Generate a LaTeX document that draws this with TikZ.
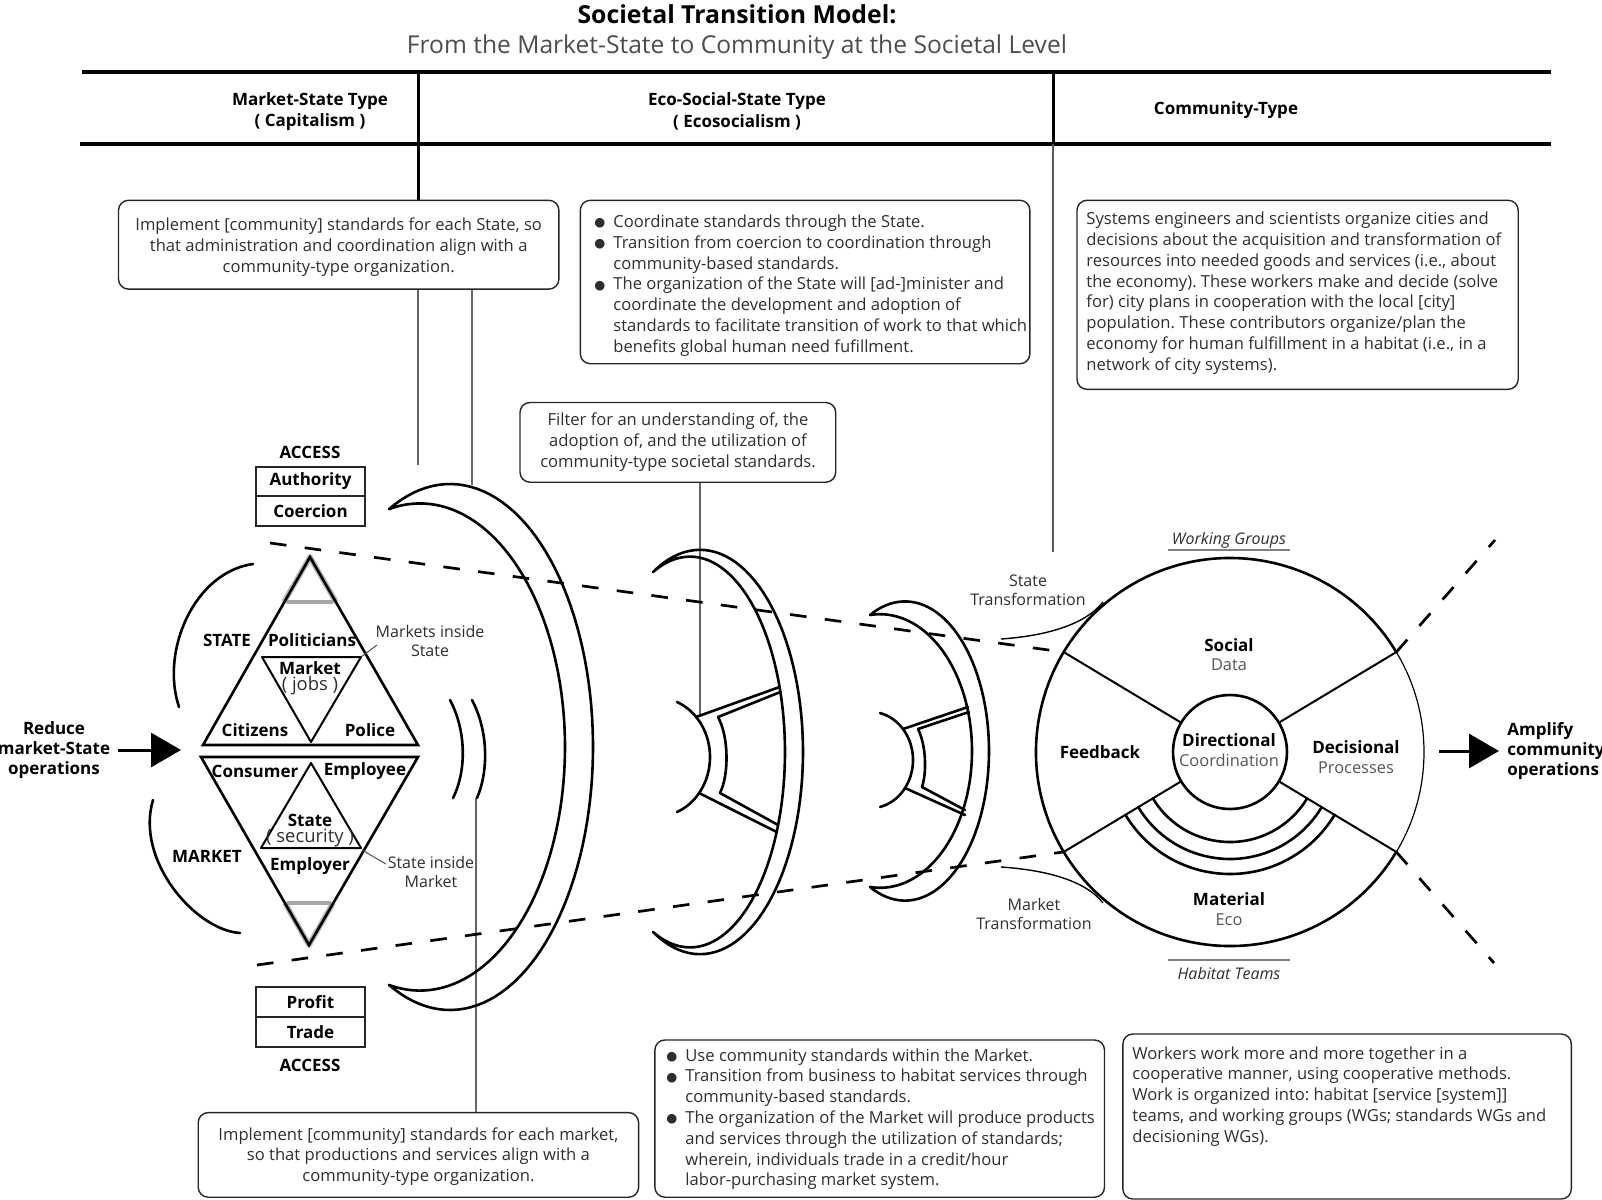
\documentclass[tikz,border=0pt]{standalone}
\usepackage{fontspec}
\setmainfont{Open Sans}
\newfontfamily\symfont{DejaVu Sans}
\usetikzlibrary{fit,calc,arrows.meta}
\frenchspacing
\definecolor{txt}{HTML}{2E2E2E}
\definecolor{soft}{HTML}{555555}
\newcommand{\bul}{\makebox[9.5pt][l]{\raisebox{0.4pt}{\symfont\fontsize{6.3}{6.3}\selectfont ●}}}
\tikzset{
  thk/.style={line width=1.3pt, line join=round, line cap=round},
  mid/.style={line width=1pt, line join=round},
  thn/.style={line width=0.6pt, draw=black!60},
  hdr/.style={line width=2pt},
  rbox/.style={draw=black!85, line width=0.7pt, rounded corners=5pt, inner sep=0pt},
  sqbox/.style={draw=black!85, line width=0.7pt, inner sep=0pt},
  body/.style={font=\fontsize{8.3}{10.4}\selectfont, text=txt, inner sep=0pt},
  blbl/.style={font=\fontsize{8.5}{10.2}\selectfont\bfseries, inner sep=0pt},
  rlbl/.style={font=\fontsize{8}{9.6}\selectfont, text=txt, inner sep=0pt},
  plbl/.style={font=\fontsize{9.2}{10}\selectfont, text=txt, inner sep=0pt},
  glbl/.style={font=\fontsize{8.2}{10}\selectfont, text=soft, inner sep=0pt},
  ilbl/.style={font=\fontsize{8}{10}\selectfont\itshape, text=txt, inner sep=0pt},
  dshline/.style={line width=1.35pt, dash pattern=on 8.3pt off 9.2pt},
  ring/.style={circle, inner sep=0pt, outer sep=0pt},
  bigarrow/.style={line width=1.5pt, -{Triangle[length=15pt,width=17pt]}},
}
\begin{document}
\begin{tikzpicture}[x=0.5pt,y=-0.5pt]
\useasboundingbox (0,0) rectangle (1602,1200);

% ---------- title ----------
\node[font=\fontsize{12.4}{14}\selectfont\bfseries, inner sep=0pt] (title) at (737,14) {Societal Transition Model:};
\node[font=\fontsize{12.3}{14}\selectfont, text=black!70, inner sep=0pt] (subtitle) at (737,47) {From the Market-State to Community at the Societal Level};

% ---------- header ----------
\draw[hdr] (82,72) -- (1551,72);
\draw[hdr] (80,144) -- (1551,144);
\draw[line width=1.5pt] (418,72) -- (418,200);
\draw[line width=1.5pt] (1053,72) -- (1053,144);
\node[blbl, align=center, font=\fontsize{8.5}{10.7}\selectfont\bfseries] (h1) at (310,111.5) {Market-State Type\\( Capitalism )};
\node[blbl, align=center, font=\fontsize{8.5}{10.7}\selectfont\bfseries] (h2) at (737,111.5) {Eco-Social-State Type\\( Ecosocialism )};
\node[blbl] (h3) at (1226,110) {Community-Type};

% ---------- text boxes ----------
\node[rbox, fit={(118.5,200.3) (558.9,289.1)}] (boxA) {};
\node[body, align=center] (tA) at (338.7,247.2) {Implement [community] standards for each State, so\\that administration and coordination align with a\\community-type organization.};

\node[rbox, fit={(580.3,200.3) (1029.9,363.7)}] (boxB) {};
\node[body, align=left, anchor=west] (tB) at (594,285.5) {\bul Coordinate standards through the State.\\
\bul Transition from coercion to coordination through\\
\hspace*{9.5pt}community-based standards.\\
\bul The organization of the State will [ad-]minister and\\
\hspace*{9.5pt}coordinate the development and adoption of\\
\hspace*{9.5pt}standards to facilitate transition of work to that which\\
\hspace*{9.5pt}benefits global human need fufillment.};

\node[rbox, fit={(1077,200.3) (1518.2,389.3)}] (boxC) {};
\node[body, align=left, anchor=west] (tC) at (1086,293.1) {Systems engineers and scientists organize cities and\\
decisions about the acquisition and transformation of\\
resources into needed goods and services (i.e., about\\
the economy). These workers make and decide (solve\\
for) city plans in cooperation with the local [city]\\
population. These contributors organize/plan the\\
economy for human fulfillment in a habitat (i.e., in a\\
network of city systems).};

\node[rbox, fit={(520,402.5) (835.7,482.2)}] (boxD) {};
\node[body, align=center] (tD) at (678,442.3) {Filter for an understanding of, the\\adoption of, and the utilization of\\community-type societal standards.};

\node[rbox, fit={(198.2,1112.6) (638.6,1197.2)}] (boxE) {};
\node[body, align=center] (tE) at (418.4,1156.5) {Implement [community] standards for each market,\\so that productions and services align with a\\community-type organization.};

\node[rbox, fit={(654.9,1040) (1104.5,1197.2)}] (boxF) {};
\node[body, align=left, anchor=west] (tF) at (666,1119.2) {\bul Use community standards within the Market.\\
\bul Transition from business to habitat services through\\
\hspace*{9.5pt}community-based standards.\\
\bul The organization of the Market will produce products\\
\hspace*{9.5pt}and services through the utilization of standards;\\
\hspace*{9.5pt}wherein, individuals trade in a credit/hour\\
\hspace*{9.5pt}labor-purchasing market system.};

\node[rbox, fit={(1122.9,1034) (1571.3,1199)}] (boxG) {};
\node[body, align=left, anchor=west] (tG) at (1132,1096.3) {Workers work more and more together in a\\
cooperative manner, using cooperative methods.\\
Work is organized into: habitat [service [system]]\\
teams, and working groups (WGs; standards WGs and\\
decisioning WGs).};

% ---------- connector lines ----------
\coordinate (k1) at (418,465);
\coordinate (k2) at (472,485);
\coordinate (k3) at (700,715);
\coordinate (k4) at (476,798);
\coordinate (k5) at (1053,552);
\draw[thn] (boxA.south -| k1) -- (k1);
\draw[thn] (boxA.south -| k2) -- (k2);
\draw[thn] (boxD.south -| k3) -- (k3);
\draw[thn] (boxE.north -| k4) -- (k4);
\draw[line width=0.8pt, black!65] (1053,144) -- (k5);

% ---------- ACCESS boxes ----------
\node[blbl] (acc1) at (310,452) {ACCESS};
\node[sqbox, fit={(256,467) (365,496)}] (auth) {};
\node[blbl] at (auth.center) {Authority};
\node[sqbox, fit={(256,496) (365,526)}] (coer) {};
\node[blbl] at (coer.center) {Coercion};
\node[sqbox, fit={(256,987) (365,1017)}] (prof) {};
\node[blbl] at (prof.center) {Profit};
\node[sqbox, fit={(256,1017) (365,1047)}] (trad) {};
\node[blbl] at (trad.center) {Trade};
\node[blbl] (acc2) at (310,1065) {ACCESS};

% ---------- triangles ----------
\draw[gray!55, line width=2.8pt, line join=round] (284,602) -- (310,557) -- (336,602);
\draw[gray!70, line width=2pt] (287,602) -- (333,602);
\draw[thk, line join=miter] (310,557) -- (418,745) -- (203,745) -- cycle;
\draw[mid] (262,657) -- (361,657) -- (311,742) -- cycle;

\draw[gray!55, line width=2.8pt, line join=round] (285,903) -- (309,945) -- (333,903);
\draw[gray!70, line width=2pt] (287,903) -- (331,903);
\draw[thk, line join=miter] (201,757) -- (418,757) -- (309,945) -- cycle;
\draw[mid] (311,763) -- (361,848) -- (261,848) -- cycle;

\node[blbl] (pol) at (312,640) {Politicians};
\node[blbl] (mkt) at (310,668) {Market};
\node[plbl] (jobs) at (310,686) {( jobs )};
\node[blbl] (cit) at (255,730) {Citizens};
\node[blbl] (pole) at (370,730) {Police};
\node[blbl] (cons) at (255,771) {Consumer};
\node[blbl] (empe) at (365,771) {Employee};
\node[blbl] (st) at (310,820) {State};
\node[plbl] (sec) at (310,838) {( security )};
\node[blbl] (empr) at (310,866) {Employer};
\node[blbl] (stl) at (227,640) {STATE};
\node[blbl] (mkl) at (207,856) {MARKET};
\node[rlbl, align=center] (mis) at (430,641) {Markets inside\\State};
\node[rlbl, align=center] (sim) at (431,872) {State inside\\Market};
\draw[line width=0.5pt, black!70] (361,657) -- (377,645);
\draw[line width=0.5pt, black!70] (362,850) -- (386,864);

% left brackets
\draw[thk] (253,564) .. controls (195,572) and (160,650) .. (179,707);
\draw[thk] (153,800) .. controls (135,860) and (195,930) .. (240,933);

% left arrow
\node[blbl, align=center] (reduce) at (54,750) {Reduce\\market-State\\operations};
\coordinate (la) at (181,750);
\draw[bigarrow] (118,750) -- (la);

% ---------- crescents ----------
\draw[thk] plot[domain=115.3:-115.3, samples=90] ({450+143*cos(\x)},{747-263*sin(\x)})
  -- plot[domain=-102.35:102.35, samples=90] ({420+145*cos(\x)},{747-243.6*sin(\x)}) -- cycle;
\draw[thk] (450,700) .. controls (466,730) and (467,770) .. (453,798);
\draw[thk] (472,700) .. controls (488,730) and (489,770) .. (477,798);

% wheel 1
\draw[thk] plot[domain=117.1:-117.1, samples=80] ({700+103*cos(\x)},{752-202.2*sin(\x)})
  -- plot[domain=-112.92:112.92, samples=80] ({690+95*cos(\x)},{752-195.4*sin(\x)}) -- cycle;
\draw[thk] plot[domain=67.8:-67.8, samples=40] ({657+53*cos(\x)},{757-59.4*sin(\x)});
\draw[thk] (696,717) -- (779.6,687);
\draw[thk] (718,717) -- (780.4,692);
\draw[thk] (699,793) -- (776.7,832);
\draw[thk] (720,793) -- (778.1,825);
\draw[thk] (718,717) .. controls (729,737) and (729,775) .. (720,793);

% wheel 2
\draw[thk] plot[domain=114.6:-114.6, samples=80] ({905+84*cos(\x)},{751-149.6*sin(\x)})
  -- plot[domain=-96.24:96.24, samples=80] ({880+92*cos(\x)},{751-136.8*sin(\x)}) -- cycle;
\draw[thk] plot[domain=76.5:-76.5, samples=40] ({870+43*cos(\x)},{760-48.3*sin(\x)});
\draw[thk] (903,729) -- (968,707);
\draw[thk] (918,729) -- (969,712);
\draw[thk] (905,788) -- (965,815);
\draw[thk] (922,787) -- (965,810);
\draw[thk] (918,729) .. controls (926,745) and (927,772) .. (922,787);

% ---------- community circle ----------
\coordinate (cc) at (1230,752);
\node[ring, draw, line width=0.6pt, minimum size=194pt] (outer) at (cc) {};
\draw[thk] (outer.31) arc[start angle=31, end angle=329, radius=97pt];
\node[ring, draw, line width=1.3pt, minimum size=57pt] (inner) at (cc) {};
\node[ring, minimum size=90pt] (r1) at (cc) {};
\node[ring, minimum size=107pt] (r2) at (cc) {};
\node[ring, minimum size=122pt] (r3) at (cc) {};
\draw[thk] (r1.211) arc[start angle=211, end angle=329, radius=45pt];
\draw[thk] (r2.211) arc[start angle=211, end angle=329, radius=53.5pt];
\draw[thk] (r3.211) arc[start angle=211, end angle=329, radius=61pt];
\foreach \a in {31,149,211,329} {\draw[line width=1pt] (inner.\a) -- (outer.\a);}

\node[blbl] (soc) at (1229,645) {Social};
\node[glbl] (dat) at (1229,665) {Data};
\node[blbl] (fb) at (1100,752) {Feedback};
\node[blbl] (dir) at (1229,740) {Directional};
\node[glbl] (coo) at (1229,760) {Coordination};
\node[blbl] (dec) at (1356,747) {Decisional};
\node[glbl] (pro) at (1356,768) {Processes};
\node[blbl] (mat) at (1229,899) {Material};
\node[glbl] (eco) at (1229,920) {Eco};

\node[ilbl] (wg) at (1229,540) {Working Groups};
\draw[line width=0.7pt, black!50] (1168,550) -- (1290,550);
\node[ilbl] (ht) at (1229,973) {Habitat Teams};
\draw[line width=0.7pt, black!50] (1168,960) -- (1290,960);

\node[rlbl, align=center] (stt) at (1028,590) {State\\Transformation};
\node[rlbl, align=center] (mtt) at (1034,914) {Market\\Transformation};
\draw[line width=0.7pt] (1103,602) .. controls (1085,625) and (1045,636) .. (1001,639);
\draw[line width=0.7pt] (1001,867) .. controls (1045,870) and (1085,880) .. (1103,903);

% ---------- dashed perspective lines ----------
\draw[dshline] (270,543) -- (outer.149);
\draw[dshline] (257,965) -- (outer.211);
\coordinate (d1) at (1495,540);
\coordinate (d2) at (1494,963);
\draw[dshline] (outer.31) -- (d1);
\draw[dshline] (outer.329) -- (d2);

% right arrow
\node[blbl, align=left, anchor=west] (amp) at (1507,751) {Amplify\\community\\operations};
\coordinate (ra) at (1499,751);
\draw[bigarrow] (1439,751) -- (ra);

\end{tikzpicture}
\end{document}
